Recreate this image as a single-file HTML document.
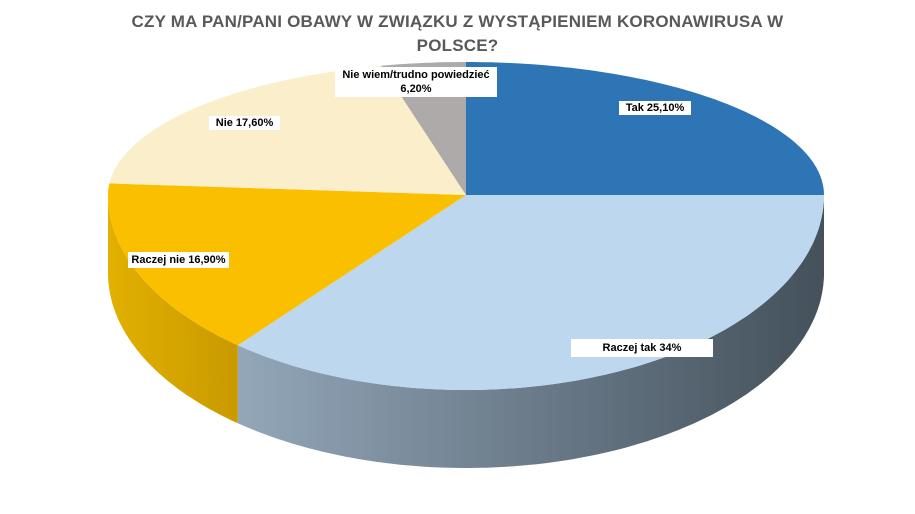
<!DOCTYPE html>
<html><head><meta charset="utf-8"><style>
body{margin:0;background:#fff;width:915px;height:514px;overflow:hidden;font-family:"Liberation Sans",sans-serif}
.t{position:absolute;left:0;width:915px;text-align:center;color:#595959;font-weight:bold;font-size:17px;letter-spacing:0.2px}
.l{position:absolute;background:#fff;font-weight:bold;font-size:11px;color:#000;text-align:center;line-height:14px}
</style></head><body>
<div class="t" style="top:12px">CZY MA PAN/PANI OBAWY W ZWIĄZKU Z WYSTĄPIENIEM KORONAWIRUSA W</div>
<div class="t" style="top:36px">POLSCE?</div>
<svg id="s" width="915" height="514" style="position:absolute;left:0;top:0">
<defs>
<linearGradient id="g1" x1="0" x2="1" y1="0" y2="0"><stop offset="0" stop-color="#93a7b9"/><stop offset="0.5" stop-color="#6b7b8a"/><stop offset="1" stop-color="#44515b"/></linearGradient>
<linearGradient id="g2" x1="0" x2="1" y1="0" y2="0"><stop offset="0" stop-color="#e2b000"/><stop offset="1" stop-color="#c99a00"/></linearGradient>
</defs>
</svg>
<div class="l" style="left:619px;top:101px;width:72px">Tak 25,10%</div>
<div class="l" style="left:571px;top:339px;width:142px;padding:2px 0">Raczej tak 34%</div>
<div class="l" style="left:128px;top:252px;width:101px;padding:1px 0">Raczej nie 16,90%</div>
<div class="l" style="left:209px;top:116px;width:71px">Nie 17,60%</div>
<div class="l" style="left:335px;top:67px;width:162px;padding:1px 0">Nie wiem/trudno powiedzieć<br>6,20%</div>
<script>
var cx=466,cy=195,rx=358,D=78;
function pt(t,dy){var r=t*Math.PI/180,c=Math.cos(r);return [cx+rx*Math.sin(r),cy-(c>0?133:195)*c+(dy||0)];}
function arc(a,b,dy){var s=[];for(var t=a;(a<b?t<=b:t>=b);t+=(a<b?1:-1)){var p=pt(t,dy);s.push(p[0].toFixed(1)+","+p[1].toFixed(1));}var p=pt(b,dy);s.push(p[0].toFixed(1)+","+p[1].toFixed(1));return s.join(" L");}
var svg=document.getElementById('s'),ns="http://www.w3.org/2000/svg";
function add(d,f){var e=document.createElementNS(ns,'path');e.setAttribute('d',d);e.setAttribute('fill',f);svg.appendChild(e);}
add("M"+arc(90,219.6,0)+" L"+arc(219.6,90,D)+"Z","url(#g1)");
add("M"+arc(219.6,270,0)+" L"+arc(270,219.6,D)+"Z","url(#g2)");
var sl=[[0,90,"#2e75b6"],[90,219.6,"#bdd7ee"],[219.6,275,"#fac000"],[275,346.3,"#fbeecb"],[346.3,360,"#aeaaaa"]];
sl.forEach(function(s){add("M"+cx+","+cy+" L"+arc(s[0],s[1],0)+"Z",s[2]);});
</script>
</body></html>
